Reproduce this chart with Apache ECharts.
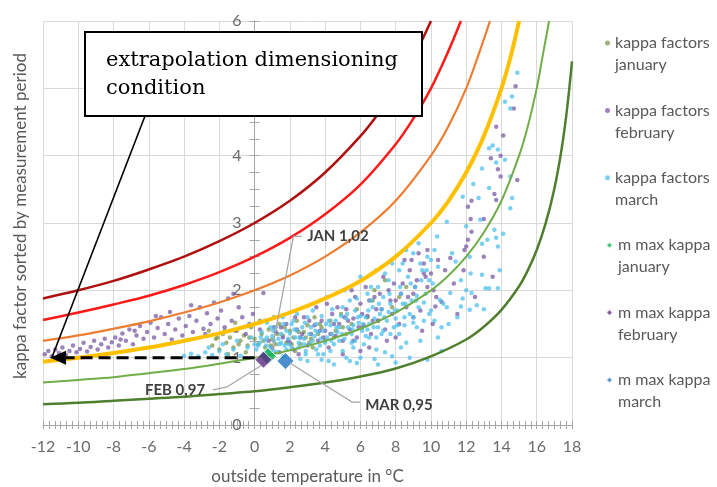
<!DOCTYPE html>
<html>
<head>
<meta charset="utf-8">
<script src="https://cdn.jsdelivr.net/npm/echarts@6/dist/echarts.min.js"></script>
<style>
  html, body { margin: 0; padding: 0; background: #fff; }
  #main { width: 717px; height: 487px; }
</style>
</head>
<body>
<div id="main"></div>
<script>
// limit curves (outside temperature, kappa)
const curveDarkRed = [[-12,1.88],[-10,2.0],[-8,2.14],[-6,2.31],[-4,2.5],[-2,2.73],[0,3.0],[2,3.33],[4,3.75],[6,4.29],[7,4.62],[8,5.0],[9,5.45],[10,6.0]];
const curveRed = [[-12,1.56],[-10,1.67],[-8,1.79],[-6,1.92],[-4,2.08],[-2,2.27],[0,2.5],[2,2.78],[4,3.13],[6,3.57],[8,4.17],[9,4.55],[10,5.0],[11,5.56],[11.7,6.0]];
const curveOrange = [[-12,1.25],[-10,1.33],[-8,1.43],[-6,1.54],[-4,1.67],[-2,1.82],[0,2.0],[2,2.22],[4,2.5],[6,2.86],[8,3.33],[10,4.0],[11,4.44],[12,5.0],[12.7,5.5],[13.35,6.0]];
const curveYellow = [[-12,0.94],[-10,1.0],[-8,1.07],[-6,1.15],[-4,1.25],[-2,1.36],[0,1.5],[2,1.67],[4,1.88],[6,2.14],[8,2.5],[10,3.0],[11,3.33],[12,3.75],[13,4.29],[14,5.0],[14.5,5.45],[15.0,6.0]];
const curveLightGreen = [[-12,0.63],[-10,0.67],[-8,0.71],[-6,0.77],[-4,0.83],[-2,0.91],[0,1.0],[2,1.11],[4,1.25],[6,1.43],[8,1.67],[10,2.0],[11,2.22],[12,2.5],[13,2.86],[14,3.33],[15,4.0],[15.5,4.44],[16,5.0],[16.35,5.5],[16.7,6.0]];
const curveDarkGreen = [[-12,0.31],[-10,0.33],[-8,0.36],[-6,0.39],[-4,0.42],[-2,0.46],[0,0.5],[2,0.56],[4,0.63],[6,0.72],[8,0.84],[10,1.02],[12,1.27],[13,1.46],[14,1.71],[15,2.06],[15.5,2.3],[16,2.6],[16.5,2.99],[17,3.51],[17.4,4.08],[17.7,4.65],[18,5.4]];

// kappa factors january
const kappaJan = [[-2.4,1.18],[-2.2,1.28],[-2.0,1.12],[-1.8,1.35],[-1.6,1.22],[-1.4,1.3],[-1.2,1.15],[-1.0,1.4],[-0.8,1.25],[-0.6,1.33],[-0.4,1.18],[-0.2,1.45],[0.0,1.28],[0.2,1.2],[0.4,1.35],[0.6,1.15],[0.8,1.42],[1.0,1.27],[1.2,1.2],[1.4,1.5],[1.6,1.33],[1.8,1.22],[2.0,1.4],[2.2,1.3],[2.4,1.55],[2.6,1.2],[2.8,1.38],[3.0,1.48],[3.2,1.28],[3.4,1.6],[3.6,1.35],[3.8,1.45],[4.0,1.25],[4.3,1.55],[4.6,1.4],[4.9,1.65],[5.2,1.35],[5.5,1.5],[5.8,1.72],[6.1,1.45],[6.4,1.6],[6.7,1.85],[7.0,1.55],[7.4,2.15],[6.8,2.0],[7.8,1.75],[8.2,1.9],[8.6,2.05],[-1.5,1.05],[-0.5,1.08],[0.3,1.55],[1.1,1.6],[-1.1,1.52],[2.3,1.1],[3.3,1.15],[-2.6,1.4],
  [0.5,1.25],[1.3,1.35],[2.1,1.2],[2.9,1.3],[3.7,1.5],[-0.9,1.2],[-0.3,1.3],[0.9,1.18],[1.7,1.45],[2.5,1.38],[3.1,1.22],[4.5,1.3],[5.0,1.45],[-1.7,1.4],[-2.1,1.3]];

// kappa factors february
const kappaFeb = [[-11.9,1.05],[-11.7,1.1],[-11.5,1.02],[-11.3,1.12],[-11.1,1.07],[-10.9,1.15],[-10.7,1.04],[-10.5,1.1],[-10.3,1.18],[-10.1,1.08],
  [-9.9,1.13],[-9.7,1.22],[-9.5,1.09],[-9.3,1.16],[-9.1,1.25],[-8.9,1.12],[-8.7,1.2],[-8.5,1.28],[-8.3,1.15],[-8.1,1.23],
  [-7.9,1.3],[-7.7,1.18],[-7.5,1.36],[-7.3,1.25],[-7.1,1.42],[-6.9,1.2],[-6.7,1.33],[-6.5,1.47],[-6.3,1.28],[-6.1,1.38],[-7.6,1.27],[-6.8,1.4],
  [-5.9,1.52],[-5.7,1.3],[-5.5,1.44],[-5.3,1.6],[-5.1,1.35],[-4.9,1.5],[-4.7,1.27],[-4.5,1.42],[-4.3,1.58],[-4.1,1.33],[-5.6,1.62],[-4.8,1.68],
  [-3.9,1.47],[-3.7,1.62],[-3.5,1.38],[-3.3,1.55],[-3.1,1.75],[-2.9,1.43],[-2.7,1.66],[-2.5,1.5],[-2.3,1.82],[-2.1,1.58],[-3.6,1.78],[-2.8,1.35],
  [-1.9,1.7],[-1.7,1.45],[-1.5,1.88],[-1.3,1.55],[-1.1,1.4],[-0.9,1.75],[-0.7,1.6],[-0.5,1.35],[-0.3,1.5],[-0.1,1.65],[-1.2,1.95],[0.5,1.96],[0.3,1.42],
  [0.8,1.25],[1.0,1.15],[1.2,1.38],[1.4,1.08],[1.6,1.3],[1.8,1.5],[2.0,1.22],[2.2,1.12],[2.4,1.42],[2.6,1.3],[2.8,1.6],[3.0,1.18],[3.2,1.35],[3.4,1.48],[3.6,1.25],[3.8,1.55],[4.0,1.4],[4.2,1.15],[4.4,1.65],[4.6,1.32],[4.8,1.5],[5.0,1.25],[5.2,1.72],[5.4,1.42],[5.6,1.58],[5.8,1.3],[6.0,1.8],[6.2,1.48],[6.4,1.62],[6.6,1.35],[6.8,1.9],[7.0,1.55],[7.2,1.72],[7.4,1.42],[7.6,2.0],[7.8,1.65],[8.0,1.85],[8.2,1.5],[8.4,2.1],[8.6,1.75],[8.8,2.3],[9.0,1.95],[9.2,2.15],[9.4,1.7],[9.6,2.4],[9.8,2.05],[10.0,2.25],[10.3,1.9],[6.5,1.15],[7.5,1.25],[5.5,2.0],[8.5,2.45],[9.3,2.55],[3.5,1.75],[2.5,1.05],
  [1.5,1.45],[2.7,1.35],[3.9,1.3],[4.5,1.5],[5.3,1.55],[6.1,1.65],[6.9,1.72],[7.7,1.85],[8.3,1.95],[9.1,2.05],[4.1,1.8],[5.7,1.9],[6.3,2.05],[7.3,2.2],[8.9,2.45],[9.8,2.6],[5.0,1.05],[6.0,1.1],[8.0,1.3],[9.5,1.4],
  [0.6,1.55],[1.9,1.25],[3.1,1.55],[4.3,1.35],[5.9,1.45],[6.7,1.55],[7.9,2.1],[8.7,1.9],[9.7,2.2],[10.4,2.45],[2.3,1.6],[3.7,1.4],[5.1,1.6],[6.5,1.85],[7.1,1.95],[4.7,1.75],[1.1,1.45],[9.0,1.6],[10.1,1.5],[5.6,1.25],
  [10.15,2.0],[10.6,1.83],[10.25,1.76],[9.6,2.25],[11.1,2.48],[11.85,2.3],[10.8,2.3],[11.3,2.1],[12.0,2.65],[11.9,2.6],[13.0,2.5],[12.1,2.75],[12.3,2.87],[12.25,3.06],[13.0,3.06],[12.1,3.24],[12.3,3.33],[13.7,3.34],[13.6,3.43],[13.95,3.69],[14.9,3.64],[13.8,3.8],[13.4,3.96],[13.95,4.0],[14.1,4.3],[13.7,4.43],[14.7,4.7],[14.8,5.03],[11.5,1.65],[12.5,1.9],[13.5,2.2]];

// kappa factors march
const kappaMar = [[-4.0,1.03],[-3.6,1.06],[-3.2,1.02],[-2.8,1.08],[-2.4,1.04],[-2.0,1.1],[-1.6,1.05],[-1.2,1.12],[-0.8,1.03],[-0.4,1.15],[-1.8,1.2],[-1.0,1.25],[-0.2,1.3],[-2.6,1.15],
  [0.1,1.12],[0.3,1.22],[0.5,1.05],[0.7,1.3],[0.9,1.15],[1.1,1.25],[1.3,1.08],[1.5,1.35],[1.7,1.18],[1.9,1.28],[0.4,1.38],[1.2,1.45],[1.6,1.02],[0.8,1.1],[1.8,1.4],
  [2.1,1.15],[2.3,1.3],[2.5,1.22],[2.7,1.45],[2.9,1.1],[3.1,1.35],[3.3,1.25],[3.5,1.5],[3.7,1.18],[3.9,1.4],[2.2,1.55],[3.0,1.6],[3.6,1.05],[2.6,0.98],[3.4,1.32],[2.8,1.28],
  [4.1,1.3],[4.3,1.48],[4.5,1.2],[4.7,1.38],[4.9,1.62],[5.1,1.28],[5.3,1.45],[5.5,1.35],[5.7,1.7],[5.9,1.52],[4.4,1.72],[5.0,1.1],[5.6,1.15],[4.6,1.55],[5.4,1.85],[4.2,0.95],[5.8,0.92],
  [6.1,1.4],[6.3,1.6],[6.5,1.5],[6.7,1.75],[6.9,1.3],[7.1,1.65],[7.3,1.9],[7.5,1.55],[7.7,1.8],[7.9,1.45],[6.4,1.95],[7.0,2.05],[7.6,2.15],[6.2,1.2],[7.2,1.35],[6.8,0.98],[7.8,1.02],[6.6,1.85],
  [8.1,1.7],[8.3,1.95],[8.5,1.6],[8.7,2.2],[8.9,1.85],[9.1,2.05],[9.3,1.75],[9.5,2.3],[9.7,1.95],[9.9,2.15],[8.4,2.4],[9.0,2.55],[9.6,1.55],[8.2,1.35],[9.2,1.45],[8.8,1.0],[9.8,0.97],[10.0,2.45],
  [0.2,1.18],[0.6,1.26],[1.0,1.32],[1.4,1.2],[1.8,1.12],[2.0,1.36],[2.4,1.4],[2.8,1.2],[3.2,1.45],[3.6,1.38],[4.0,1.22],[4.4,1.35],[4.8,1.45],[5.2,1.58],[5.6,1.48],[6.0,1.62],[6.4,1.42],[6.8,1.58],[7.2,1.72],[7.6,1.68],[8.0,1.58],[8.4,1.8],[8.8,1.65],[9.2,1.92],[9.6,1.82],[3.8,1.62],[4.2,1.55],[5.0,1.75],[5.8,1.88],[6.6,2.05],[7.4,2.25],[8.2,2.3],[9.4,2.4],[4.8,1.25],[5.5,1.22],[6.3,1.32],[7.0,1.45],[7.7,1.35],[8.5,1.48],[9.0,1.6],[2.5,1.15],[3.5,1.12],[1.5,1.22],[0.9,1.45],[2.1,1.5],[3.9,1.05],[5.2,1.0],[6.0,1.0],[7.4,1.08],[8.3,1.15],[9.4,1.25],[10.2,1.55],[10.0,1.7],[4.5,0.9],[3.0,0.95],[7.0,0.9],[8.0,0.93],
  [0.0,1.2],[0.35,1.3],[0.65,1.18],[1.05,1.4],[1.35,1.28],[1.65,1.5],[1.95,1.2],[2.25,1.42],[2.55,1.3],[2.85,1.52],[3.15,1.2],[3.45,1.4],[3.75,1.28],[4.05,1.5],[4.35,1.25],[4.65,1.45],[4.95,1.35],[5.25,1.65],[5.55,1.42],[5.85,1.6],[6.15,1.5],[6.45,1.7],[6.75,1.45],[7.05,1.8],[7.35,1.6],[7.65,1.95],[7.95,1.7],[8.25,2.05],[8.55,1.8],[8.85,2.1],[9.15,1.85],[9.45,2.15],[9.75,2.3],[10.1,2.1],[10.4,2.35],[3.3,1.7],[4.1,1.9],[5.1,2.0],[6.0,2.2],[6.9,2.3],[7.8,2.4],[8.6,2.6],[9.3,2.7],[2.4,1.65],[1.6,1.6],[0.7,1.52],[5.7,1.25],[6.5,1.3],[7.3,1.4],[8.1,1.48],[9.0,1.52],[9.9,1.65],[4.3,1.1],[2.9,1.05],[1.1,1.1],[6.9,1.12],[8.6,1.22],[10.6,1.45],[3.8,0.97],[5.4,0.95],
  [10.5,1.86],[10.9,1.75],[10.7,1.8],[11.1,1.96],[11.8,1.88],[11.7,1.76],[12.2,1.71],[11.7,2.15],[11.4,2.43],[11.2,2.55],[10.35,2.8],[10.2,2.6],[9.8,2.5],[10.9,3.02],[11.8,3.39],[12.0,2.95],[12.2,2.5],[12.25,2.25],[10.4,1.3],[11.0,1.5],[11.5,1.6],[10.6,1.1],
  [12.6,1.78],[12.3,1.96],[12.9,2.23],[13.3,2.03],[13.8,2.03],[13.1,2.03],[12.9,2.69],[13.2,2.75],[13.7,2.78],[13.8,2.65],[14.1,2.84],[13.6,2.9],[12.8,3.05],[12.7,3.37],[14.5,3.22],[14.6,3.37],[13.3,3.52],[12.4,3.58],[14.5,3.69],[12.9,3.81],[13.7,3.9],[14.2,3.94],[13.8,4.09],[13.5,4.15],[13.3,4.11],[14.6,4.88],[14.5,4.7],[14.2,4.8],[14.9,5.23],[13.0,1.72],[13.9,2.3],[12.0,2.0]];

// m max kappa per month
const maxJan = [[0.75, 1.02]];
const maxFeb = [[0.5, 0.97]];
const maxMar = [[1.75, 0.95]];

const legendNames = ['kappa factors\njanuary', 'kappa factors\nfebruary', 'kappa factors\nmarch',
  'm max kappa\njanuary', 'm max kappa\nfebruary', 'm max kappa\nmarch'];
const legendIcons = ['circle', 'circle', 'circle', 'diamond', 'diamond', 'diamond'];

const gray = '#a6a6a6';
const labelColor = '#6b6b6b';
const gridLeft = 43, gridRight = 145;
const xMin = -12, xMax = 18;
// shift of the value axis so that it sits on x = 0
const yAxisShift = -(0 - xMin) / (xMax - xMin) * (717 - gridLeft - gridRight);

function curve(data, color, width) {
  return {
    type: 'line', data: data, smooth: 0.35, showSymbol: false, silent: true,
    lineStyle: { color: color, width: width }, z: 5
  };
}
function dots(name, data, color) {
  return {
    name: name, type: 'scatter', data: data, symbolSize: 4.5,
    itemStyle: { color: color, opacity: 0.75 }, z: 3
  };
}
function diamond(name, data, color) {
  return {
    name: name, type: 'scatter', data: data, symbol: 'diamond', symbolSize: 17,
    itemStyle: { color: color, borderColor: '#fff', borderWidth: 1 }, z: 8
  };
}

// one legend block per entry; a blank first line puts the marker beside the first text line
const legends = legendNames.map((name, i) => ({
  orient: 'vertical', left: 600, top: 5 + i * 67.4,
  itemWidth: i < 3 ? 5 : 7, itemHeight: i < 3 ? 5 : 7,
  formatter: n => ' \n' + n,
  textStyle: { fontFamily: 'Lato', fontSize: 16, color: '#595959', lineHeight: 22 },
  data: [{ name: name, icon: legendIcons[i] }]
}));

const chart = echarts.init(document.getElementById('main'));
const option = {
  animation: false,
  textStyle: { fontFamily: 'Lato' },
  grid: { left: gridLeft, right: gridRight, top: 21, bottom: 62, outerBoundsMode: 'none' },
  legend: legends,
  xAxis: [
    {
      type: 'value', min: xMin, max: xMax, interval: 2,
      name: 'outside temperature in °C', nameLocation: 'middle', nameGap: 43,
      nameTextStyle: { fontSize: 17, color: '#595959' },
      axisLine: { show: true, onZero: false, lineStyle: { color: gray } },
      axisTick: { show: true, length: 4, lineStyle: { color: gray } },
      minorTick: { show: true, splitNumber: 6, length: 4, lineStyle: { color: gray } },
      axisLabel: { margin: 14, fontSize: 16, color: labelColor },
      splitLine: { show: true, lineStyle: { color: '#d9d9d9' } }
    },
    {
      type: 'value', min: xMin, max: xMax, interval: 2, position: 'bottom',
      axisLine: { show: false, onZero: false },
      axisTick: { show: true, inside: true, length: 4, lineStyle: { color: gray } },
      minorTick: { show: true, splitNumber: 6, length: 4, lineStyle: { color: gray } },
      axisLabel: { show: false }, splitLine: { show: false }
    }
  ],
  yAxis: [
    {
      type: 'value', min: 0, max: 6, interval: 1, position: 'left', offset: yAxisShift,
      axisLine: { show: true, onZero: false, lineStyle: { color: gray } },
      axisTick: { show: true, length: 5, lineStyle: { color: gray } },
      minorTick: { show: true, splitNumber: 4, length: 5, lineStyle: { color: gray } },
      axisLabel: { margin: 13, fontSize: 16, color: labelColor },
      splitLine: { show: true, lineStyle: { color: '#d9d9d9' } }
    },
    {
      type: 'value', min: 0, max: 6, interval: 1, position: 'left', offset: yAxisShift,
      axisLine: { show: false, onZero: false },
      axisTick: { show: true, inside: true, length: 5, lineStyle: { color: gray } },
      minorTick: { show: true, splitNumber: 4, length: 5, lineStyle: { color: gray } },
      axisLabel: { show: false }, splitLine: { show: false }
    }
  ],
  series: [
    dots(legendNames[0], kappaJan, '#7f9a4c'),
    dots(legendNames[1], kappaFeb, '#7b5aa6'),
    dots(legendNames[2], kappaMar, '#4cc0ee'),
    curve(curveDarkRed, '#b00f0f', 2.5),
    curve(curveRed, '#ff1a1a', 2.5),
    curve(curveOrange, '#ed7d31', 2.2),
    curve(curveYellow, '#ffc000', 4),
    curve(curveLightGreen, '#70ad47', 2),
    curve(curveDarkGreen, '#4f7f2e', 2.5),
    diamond(legendNames[3], maxJan, '#00b050'),
    diamond(legendNames[4], maxFeb, '#5b2a86'),
    diamond(legendNames[5], maxMar, '#1f74c4')
  ]
};
chart.setOption(option);

// annotations in data coordinates
const arrowFrom = [0, 1], arrowTip = [-11.6, 1];
const pointerLine = [[-6.2, 4.6], [-11.5, 1.0]];
const janLeader = [[0.97, 1.09], [2.2, 2.8], [2.67, 2.8]], janLabel = [2.98, 2.8];
const febLeader = [[0.35, 0.88], [-1.57, 0.565], [-2.36, 0.52]], febLabel = [-2.8, 0.52];
const marLeader = [[2.0, 0.92], [5.53, 0.34], [5.98, 0.34]], marLabel = [6.27, 0.30];

const px = p => chart.convertToPixel({ seriesIndex: 0 }, p);
const tip = px(arrowTip), from = px(arrowFrom);
const leaderStyle = { stroke: '#a6a6a6', lineWidth: 1.3, fill: null };
const tagFont = { fontFamily: 'Lato', fontSize: 15, fontWeight: 'bold', fill: '#404040' };

chart.setOption({
  graphic: [
    { type: 'text', x: 21, y: 216, rotation: Math.PI / 2, z: 100,
      style: { text: 'kappa factor sorted by measurement period', fontFamily: 'Lato', fontSize: 17, fill: '#595959', align: 'center', verticalAlign: 'middle' } },
    { type: 'polyline', z: 100, shape: { points: janLeader.map(px) }, style: leaderStyle },
    { type: 'polyline', z: 100, shape: { points: febLeader.map(px) }, style: leaderStyle },
    { type: 'polyline', z: 100, shape: { points: marLeader.map(px) }, style: leaderStyle },
    { type: 'text', z: 100, x: px(janLabel)[0], y: px(janLabel)[1], style: Object.assign({ text: 'JAN 1,02', verticalAlign: 'middle' }, tagFont) },
    { type: 'text', z: 100, x: px(febLabel)[0], y: px(febLabel)[1], style: Object.assign({ text: 'FEB 0,97', align: 'right', verticalAlign: 'middle' }, tagFont) },
    { type: 'text', z: 100, x: px(marLabel)[0], y: px(marLabel)[1], style: Object.assign({ text: 'MAR 0,95', verticalAlign: 'middle' }, tagFont) },
    { type: 'line', z: 101, shape: { x1: from[0], y1: from[1], x2: tip[0] + 12, y2: tip[1] },
      style: { stroke: '#000', lineWidth: 3, lineDash: [12, 6] } },
    { type: 'polygon', z: 101, shape: { points: [[tip[0], tip[1]], [tip[0] + 16, tip[1] - 7], [tip[0] + 16, tip[1] + 7]] },
      style: { fill: '#000' } },
    { type: 'line', z: 101, shape: { x1: px(pointerLine[0])[0], y1: px(pointerLine[0])[1], x2: px(pointerLine[1])[0], y2: px(pointerLine[1])[1] },
      style: { stroke: '#000', lineWidth: 1.6 } },
    { type: 'rect', z: 102, shape: { x: 85, y: 32, width: 337, height: 84 },
      style: { fill: '#fff', stroke: '#000', lineWidth: 2 } },
    { type: 'text', z: 103, x: 106, y: 47,
      style: { text: 'extrapolation dimensioning\ncondition', fontFamily: 'DejaVu Serif', fontSize: 21, lineHeight: 28, fill: '#000', verticalAlign: 'top' } }
  ]
});
</script>
</body>
</html>
